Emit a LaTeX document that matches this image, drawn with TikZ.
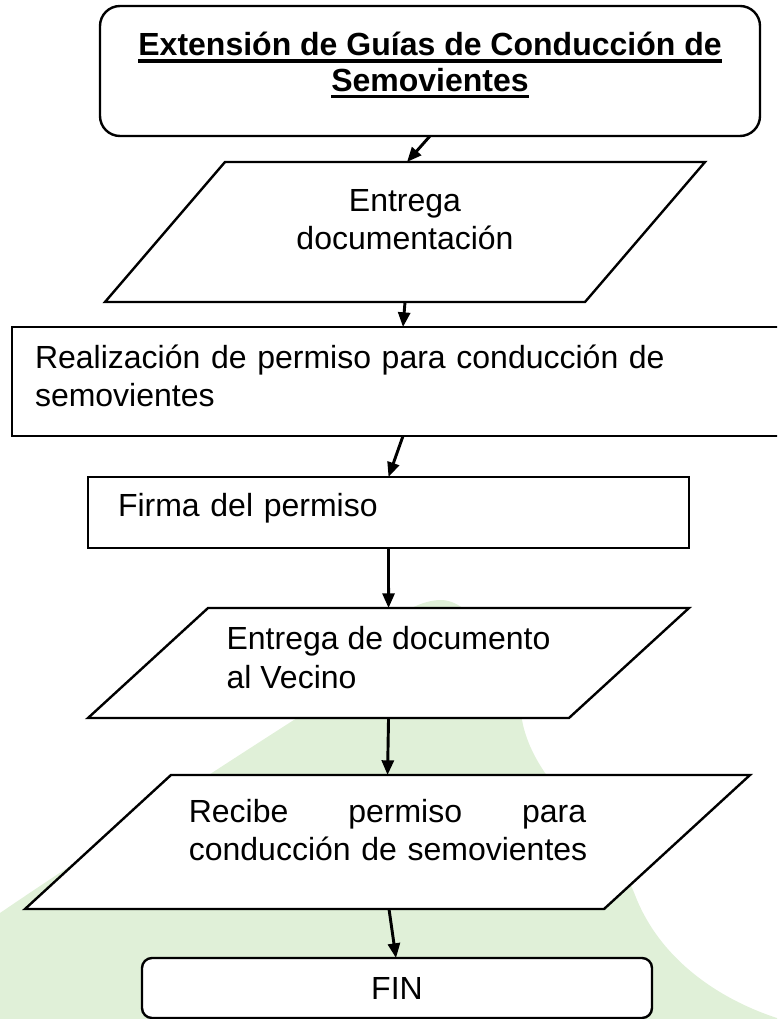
\documentclass[tikz,border=0pt]{standalone}
\usepackage{fontspec}
\setmainfont{Liberation Sans}
\usepackage{tikz}
\usetikzlibrary{shapes.geometric}
\usetikzlibrary{arrows.meta}
\definecolor{verdeagua}{RGB}{224,240,216}
\newcommand{\subrayado}[1]{\setbox0=\hbox{#1}\rlap{\copy0}\rule[-5.2pt]{\wd0}{2.4pt}}

\begin{document}
\begin{tikzpicture}[x=0.75pt,y=-0.75pt,
	caja/.style={draw, line width=1.8pt, fill=white, inner sep=0pt, outer sep=0pt, font=\fontsize{24}{29}\selectfont},
	datos/.style={caja, trapezium, trapezium stretches body=true},
	flecha/.style={->, line width=2.2pt},
	>={Triangle[length=11pt,width=9pt]}]
		\useasboundingbox (0,0) rectangle (777,1019);
		\clip (0,0) rectangle (777,1019);

		% mancha verde del fondo
		\fill[verdeagua] (0,1019) -- (0,913) .. controls (60,872) and (200,780) .. (297,718) .. controls (360,640) and (405,601) .. (440,600) .. controls (470,599) and (508,650) .. (522,720) .. controls (535,790) and (610,830) .. (635,895) .. controls (660,960) and (720,1000) .. (780,1019) -- cycle;

		\node[caja, rounded corners=15pt, minimum width=495pt, minimum height=97.5pt, align=center, text depth=14pt, font=\bfseries\fontsize{24}{26.5}\selectfont] (titulo) at (430,71) {\subrayado{Extensión de Guías de Conducción de}\\\subrayado{Semovientes}};
		\node[datos, trapezium left angle=49.4, trapezium right angle=130.6, minimum width=450pt, minimum height=105pt, align=center, text height=66pt, text depth=39pt] (entrega) at (405,232) {Entrega\\documentación};
		\node[caja, minimum width=600pt, minimum height=81.75pt, text width=565.5pt, inner xsep=17.25pt, align=left, text depth=37.7pt] (realizacion) at (412,381.5) {Realización de permiso para conducción de\\semovientes};
		\node[caja, minimum width=450.75pt, minimum height=53.25pt, text width=405.75pt, inner xsep=22.5pt, align=left, text depth=10.7pt] (firma) at (388.5,512.5) {Firma del permiso};
		\node[datos, trapezium left angle=42.5, trapezium right angle=137.5, minimum width=450.75pt, minimum height=82.5pt, align=left, text height=60pt, text depth=22.5pt] (vecino) at (388.5,663) {Entrega de documento\\al Vecino};
		\node[datos, trapezium left angle=42.55, trapezium right angle=137.45, minimum width=543.75pt, minimum height=100.5pt, text width=298pt, align=left, text height=35.25pt, text depth=65.25pt] (recibe) at (387.5,842) {Recibe\hfill permiso\hfill para\\\mbox{conducción de semovientes}};
		\node[caja, rounded corners=7.5pt, minimum width=382.5pt, minimum height=45pt] (fin) at (397,988) {FIN};

		\draw[flecha] (titulo.south) -- ([xshift=1.5pt]entrega.north);
		\draw[flecha] (entrega.south) -- ([xshift=-6.75pt]realizacion.north);
		\draw[flecha] ([xshift=-6.75pt]realizacion.south) -- (firma.north);
		\draw[flecha] (firma.south) -- (vecino.north);
		\draw[flecha] (vecino.south) -- (recibe.north);
		\draw[flecha] ([xshift=1.1pt]recibe.south) -- ([xshift=-0.75pt]fin.north);
	\end{tikzpicture}
\end{document}
